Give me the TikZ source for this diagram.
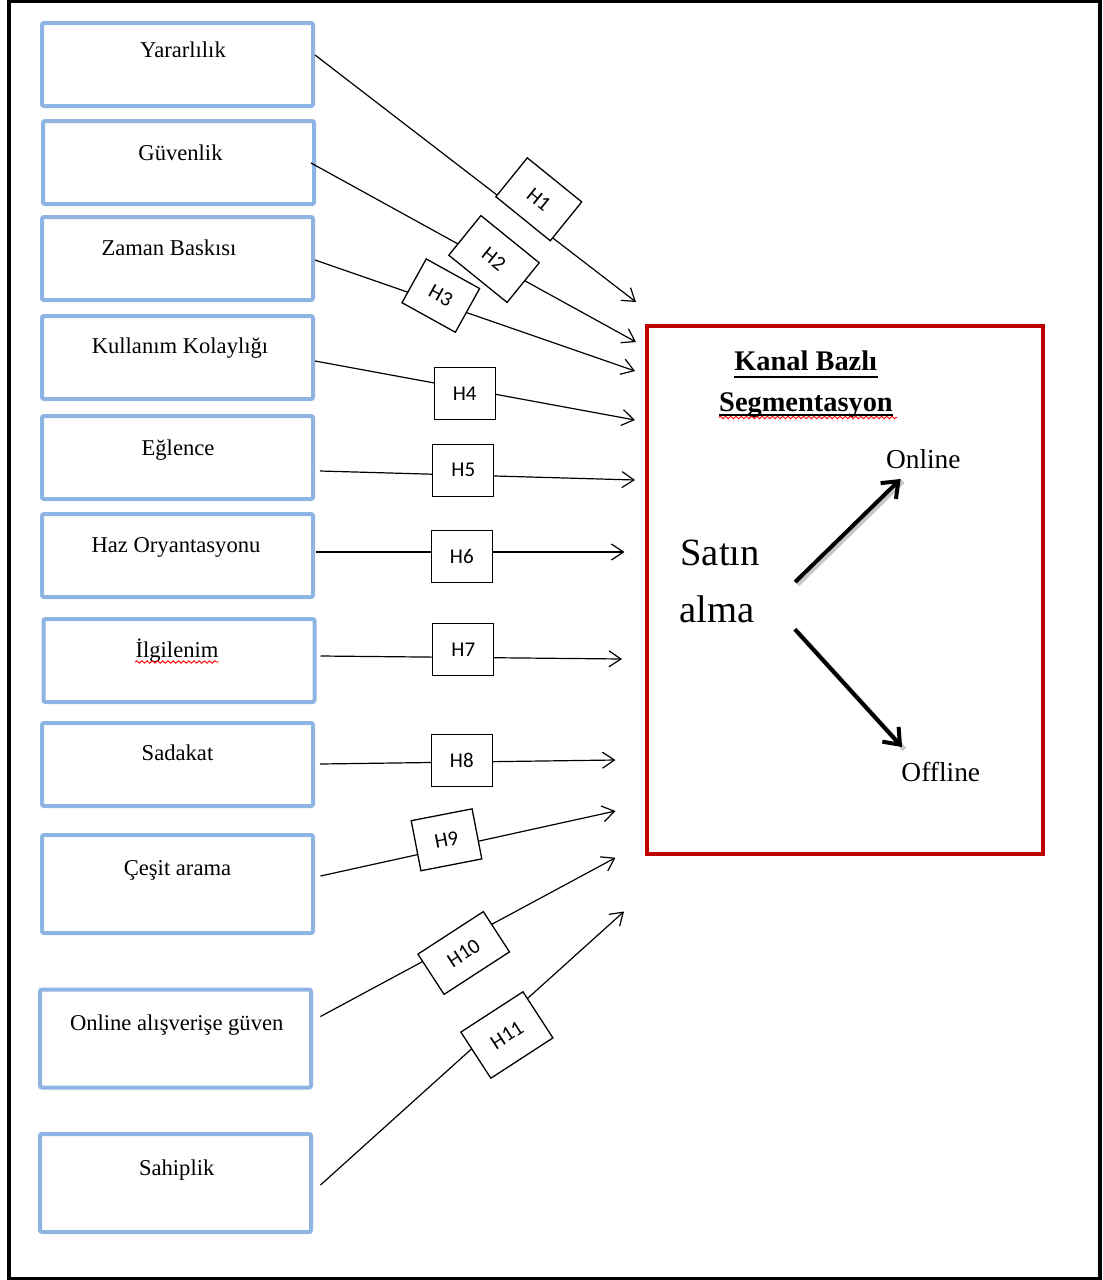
\documentclass[tikz,border=0pt]{standalone}
\usepackage{fontspec}
\setmainfont{Liberation Serif}
\newfontfamily\hfont{Carlito}
\usetikzlibrary{arrows.meta,decorations.pathmorphing,calc}
\definecolor{boxblue}{RGB}{141,180,226}
\definecolor{frred}{RGB}{192,0,0}
\begin{document}
\begin{tikzpicture}[x=0.5pt,y=-0.5pt,
 vbox/.style={draw=boxblue, line width=2pt, rounded corners=1pt, minimum width=135.5pt, minimum height=41.5pt, inner sep=0pt},
 vboxtall/.style={vbox, minimum height=49pt},
 vtext/.style={anchor=base, font=\fontsize{11.3}{13}\selectfont, inner sep=0pt},
 hbox/.style={draw=black, fill=white, line width=0.65pt, inner sep=0pt, minimum width=30.5pt, minimum height=26pt, font=\hfont\fontsize{10.5}{12}\selectfont},
 conn/.style={line width=0.6pt, -{Straight Barb[length=6pt,width=8pt]}},
 bigarr/.style={line width=2pt, -{Straight Barb[length=7pt,width=11pt]}},
 shadowarr/.style={line width=2.4pt, black!22, transform canvas={shift={(1.2pt,-1.2pt)}}},
 wavy/.style={draw=red, line width=0.45pt, decorate, decoration={snake, amplitude=0.6pt, segment length=2.6pt}},
]
\useasboundingbox (0,0) rectangle (1103,1280);
\draw[line width=1.75pt] (9,1.5) rectangle (1100,1278.5);

% left boxes
\node[vbox] (b1) at (177.5,64.5) {};
\node[vbox] (b2) at (178.5,162.5) {};
\node[vbox] (b3) at (177.5,258.5) {};
\node[vbox] (b4) at (177.5,357.5) {};
\node[vbox] (b5) at (177.5,457.5) {};
\node[vbox] (b6) at (177.5,555.5) {};
\node[vbox] (b7) at (179,660.5) {};
\node[vbox] (b8) at (177.5,764.5) {};
\node[vboxtall] (b9) at (177.5,884) {};
\node[vboxtall] (b10) at (175.5,1038.5) {};
\node[vboxtall] (b11) at (175.5,1183) {};

\node[vtext] (n1) at (183,57) {Yararlılık};
\node[vtext] (n2) at (180.5,160) {Güvenlik};
\node[vtext] (n3) at (169,255) {Zaman Baskısı};
\node[vtext] (n4) at (180,353) {Kullanım Kolaylığı};
\node[vtext] (n5) at (178,455) {Eğlence};
\node[vtext] (n6) at (176,552) {Haz Oryantasyonu};
\node[vtext] (n7) at (177,657) {İlgilenim};
\node[vtext] (n8) at (177.5,760) {Sadakat};
\node[vtext] (n9) at (177.5,875) {Çeşit arama};
\node[vtext] (n10) at (176.7,1030) {Online alışverişe güven};
\node[vtext] (n11) at (176.7,1175) {Sahiplik};
\draw[wavy] ($(n7.base west)+(0,5)$) -- ($(n7.base east)+(0,5)$);

% connector start points, taken from the boxes
\coordinate (s1) at ($(b1.east)+(0,-9.5)$);
\coordinate (s2) at ($(b2.east)+(-5,0.5)$);
\coordinate (s3) at ($(b3.east)+(0,1.5)$);
\coordinate (s4) at ($(b4.east)+(0,3.5)$);
\coordinate (s5) at ($(b5.east)+(5,13.5)$);
\coordinate (s6) at ($(b6.east)+(1,-3.5)$);
\coordinate (s7) at ($(b7.east)+(4,-4.5)$);
\coordinate (s8) at ($(b8.east)+(5,-0.5)$);
\coordinate (s9) at ($(b9.east)+(5.5,-8)$);
\coordinate (s10) at ($(b10.east)+(7.5,-22)$);
\coordinate (s11) at ($(b11.east)+(7.5,2)$);
% connector end points, at the segmentation box
\coordinate (t1) at (636,302);
\coordinate (t2) at (636,342);
\coordinate (t3) at (635,371);
\coordinate (t4) at (635,420);
\coordinate (t5) at (635,480);
\coordinate (t6) at (624.5,552);
\coordinate (t7) at (622,659);
\coordinate (t8) at (615.5,760);
\coordinate (t9) at (615.5,811);
\coordinate (t10) at (615.5,857.7);
\coordinate (t11) at (624,911.5);

\foreach \i in {1,...,11} {\draw[conn] (s\i) -- (t\i);}

% hypothesis labels
\node[hbox, rotate=-39, minimum width=35pt, minimum height=25pt] (h1) at (538.8,199.3) {H1};
\node[hbox, rotate=-39, minimum width=37.5pt, minimum height=25.5pt] (h2) at (494,259) {H2};
\node[hbox, rotate=-29, minimum width=30.5pt, minimum height=25pt] (h3) at (440.8,295.6) {H3};
\node[hbox] (h4) at (464.7,393.5) {H4};
\node[hbox] (h5) at (463.3,470.2) {H5};
\node[hbox] (h6) at (461.8,556.7) {H6};
\node[hbox] (h7) at (463.3,649.8) {H7};
\node[hbox] (h8) at (461.8,760.8) {H8};
\node[hbox, rotate=11, minimum width=31pt, minimum height=25.5pt] (h9) at (446.5,839.8) {H9};
\node[hbox, rotate=33, minimum width=39pt, minimum height=24pt] (h10) at (463.7,953) {H10};
\node[hbox, rotate=33, minimum width=37pt, minimum height=27.5pt] (h11) at (506.9,1035) {H11};

% right box
\node[draw=frred, line width=1.75pt, minimum width=198pt, minimum height=264pt, inner sep=0pt] (seg) at (845,590) {};
\node[anchor=base, inner sep=0pt, font=\bfseries\fontsize{14.2}{16}\selectfont] (k1) at (805.7,370) {Kanal Bazlı};
\node[anchor=base, inner sep=0pt, font=\bfseries\fontsize{14.2}{16}\selectfont] (k2) at (806,411.5) {Segmentasyon};
\draw[line width=1pt] ($(k1.base west)+(0,6.5)$) -- ($(k1.base east)+(0,6.5)$);
\draw[line width=1pt] ($(k2.base west)+(0,3)$) -- ($(k2.base east)+(0,3)$);
\draw[wavy] ($(k2.base west)+(0,6)$) -- ($(k2.base east)+(4,6)$);

\node[anchor=base west, inner sep=0pt, font=\fontsize{19.3}{22}\selectfont] (sa1) at (680,565) {Satın};
\node[anchor=base west, inner sep=0pt, font=\fontsize{19.3}{22}\selectfont] (sa2) at (679,622.7) {alma};
\node[anchor=base, inner sep=0pt, font=\fontsize{13.7}{16}\selectfont] (on) at (923.3,468.3) {Online};
\node[anchor=base, inner sep=0pt, font=\fontsize{13.7}{16}\selectfont] (off) at (940.8,781.7) {Offline};

\coordinate (a1) at ($(sa1.base east)+(35,17)$);  \coordinate (e1) at ($(on.south west)+(15,10)$);
\coordinate (a2) at ($(sa2.base east)+(40,6.5)$); \coordinate (e2) at ($(off.north west)+(1,-15)$);
\draw[shadowarr] (a1) -- (e1);
\draw[shadowarr] (a2) -- (e2);
\draw[bigarr] (a1) -- (e1);
\draw[bigarr] (a2) -- (e2);
\end{tikzpicture}
\end{document}
